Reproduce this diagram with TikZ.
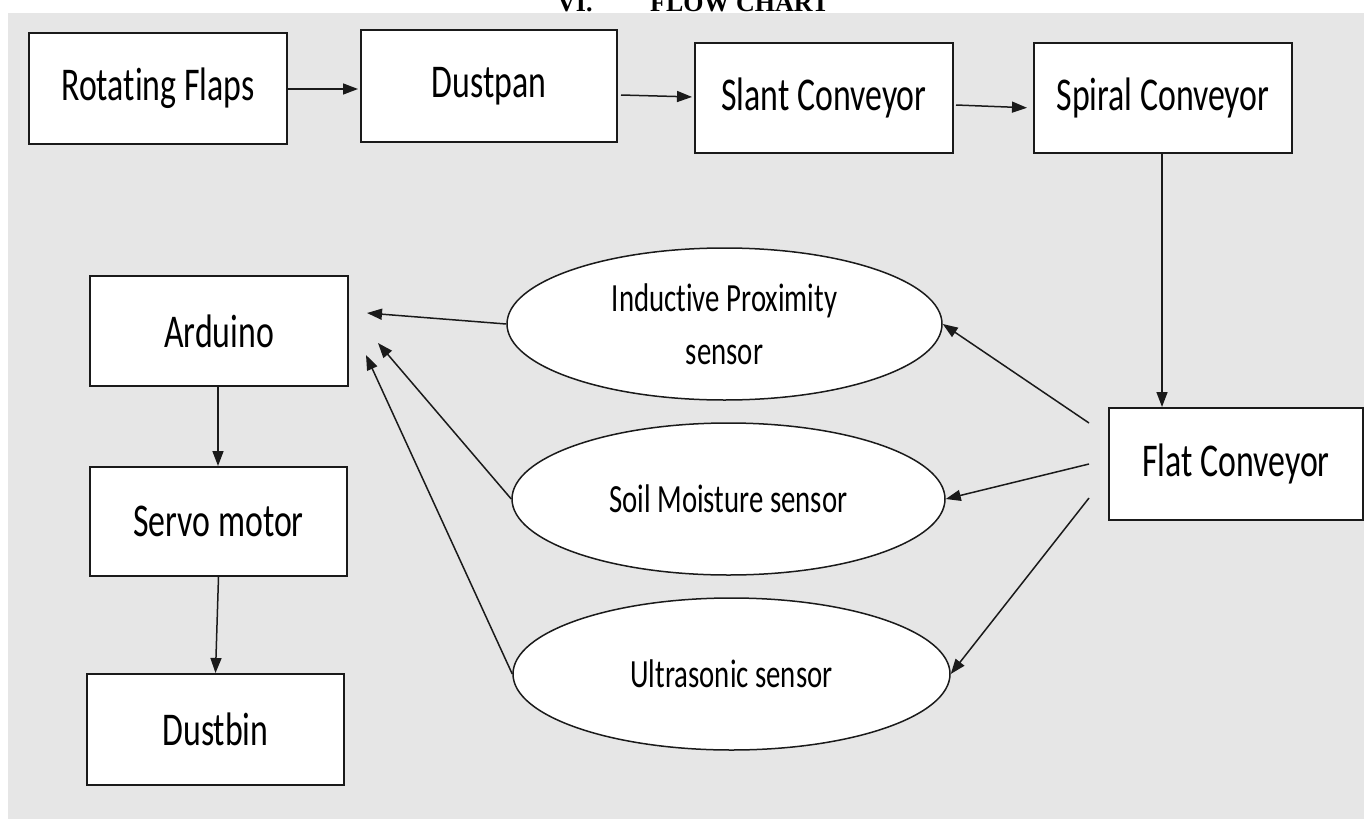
\documentclass[tikz,border=0pt]{standalone}
\usepackage{fontspec}
\setmainfont{Carlito}[FakeStretch=0.72,Ligatures=NoCommon]
\newfontfamily\titlefont{Liberation Serif}
\usetikzlibrary{arrows.meta,shapes.geometric,calc}
\definecolor{bgc}{HTML}{E6E6E6}
\definecolor{ink}{HTML}{1A1A1A}
\begin{document}
\begin{tikzpicture}[x=1pt,y=-1pt,
  box/.style={draw=ink, line width=2pt, fill=white, rectangle, inner sep=0pt,
    font=\fontsize{47}{54}\selectfont},
  oval/.style={draw=ink, line width=1.5pt, fill=white, ellipse, inner sep=0pt,
    align=center, font=\fontsize{40}{53}\selectfont},
  arr/.style={draw=ink, line width=1.5pt, -{Triangle[length=15pt,width=11pt]}},
  ttl/.style={font=\titlefont\bfseries\fontsize{26}{30}\selectfont, inner sep=0pt, anchor=base west}
]
\useasboundingbox (0,0) rectangle (1364,819);
\fill[white] (0,0) rectangle (1364,819);
\fill[bgc] (8,13) rectangle (1364,819);

% title (cut off at top, as in the reference)
\node[ttl] (tvi) at (557,11) {VI.};
\node[ttl] (tfc) at (650,11) {FLOW CHART};

% top row
\node[box, minimum width=258, minimum height=111] (rf) at (158,88.5) {Rotating Flaps};
\node[box, minimum width=256, minimum height=112] (dp) at (489,86) {Dustpan};
\node[box, minimum width=258, minimum height=110] (sc) at (824,98) {Slant Conveyor};
\node[box, minimum width=258, minimum height=110] (sp) at (1163,98) {Spiral Conveyor};
\node[box, minimum width=254, minimum height=112] (fc) at (1236,464) {Flat Conveyor};

% left column
\node[box, minimum width=258, minimum height=110] (ar) at (219,331) {Arduino};
\node[box, minimum width=257, minimum height=109] (sm) at (218.5,521.5) {Servo motor};
\node[box, minimum width=257, minimum height=111] (db) at (215.5,729.5) {Dustbin};

% sensors
\node[oval, minimum width=435, minimum height=152] (e1) at (724.5,324) {Inductive Proximity\\sensor};
\node[oval, minimum width=433, minimum height=152] (e2) at (728.5,499) {Soil Moisture sensor};
\node[oval, minimum width=437, minimum height=152] (e3) at (731.5,674) {Ultrasonic sensor};

% free ends
\coordinate (t1) at (367,313);
\coordinate (t2) at (378,343);
\coordinate (t3) at (366,355);
\coordinate (s1) at (1089,423);
\coordinate (s2) at (1089,464);
\coordinate (s3) at (1089,498);

% top-row arrows
\draw[arr, shorten >=2pt] ([yshift=-0.5pt]rf.east) -- ([yshift=-3pt]dp.west);
\draw[arr, shorten >=2pt] ([xshift=3pt,yshift=-9pt]dp.east) -- ([yshift=1pt]sc.west);
\draw[arr, shorten >=6pt] ([xshift=2pt,yshift=-7pt]sc.east) -- ([yshift=-10pt]sp.west);
\draw[arr] ([xshift=-1pt]sp.south) -- ([xshift=-1pt]sp.south |- fc.north);

% left column arrows
\draw[arr] ([xshift=-1pt]ar.south) -- ([xshift=-1pt]ar.south |- sm.north);
\draw[arr] (sm.south) -- (db.north);

% sensors to Arduino
\draw[arr] (e1.west) -- (t1);
\draw[arr] (e2.west) -- (t2);
\draw[arr] (e3.west) -- (t3);

% Flat Conveyor to sensors
\draw[arr] (s1) -- (e1.east);
\draw[arr] (s2) -- (e2.east);
\draw[arr] (s3) -- (e3.east);
\end{tikzpicture}
\end{document}
